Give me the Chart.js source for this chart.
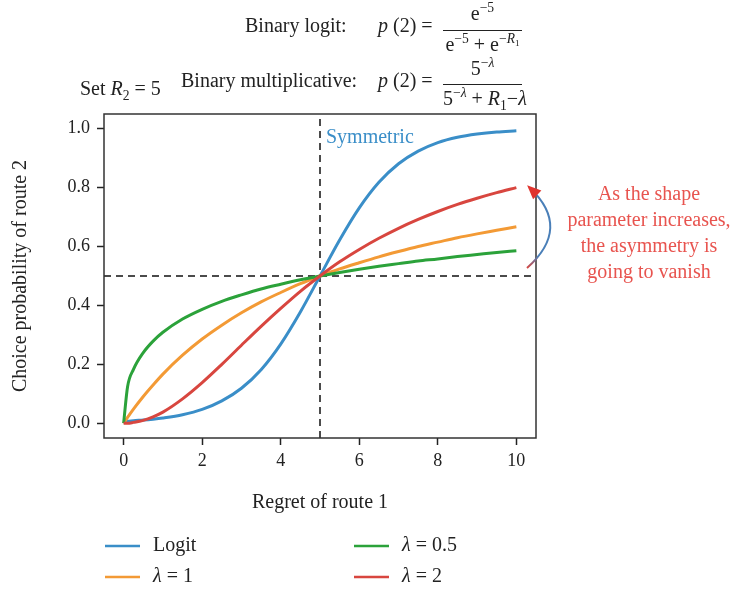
<!DOCTYPE html>
<html>
<head>
<meta charset="utf-8">
<script src="https://cdn.jsdelivr.net/npm/chart.js@4"></script>
<style>
  body { margin: 0; background: #fff; }
  #wrap { position: relative; width: 736px; height: 592px; font-family: "Liberation Serif", serif; color: #222; }
  #chart { position: absolute; left: 0; top: 0; }
  .t { position: absolute; font-size: 20px; line-height: 1; white-space: nowrap; }
  .c { text-align: center; }
  .bar { position: absolute; height: 1.3px; background: #222; }
  sup, sub { font-size: 0.68em; line-height: 0; position: relative; vertical-align: baseline; }
  sup { top: -0.6em; }
  sub { top: 0.35em; }
  #note { position: absolute; left: 560px; top: 180px; width: 178px; text-align: center;
          font-size: 20px; line-height: 26px; color: #e8544f; }
</style>
</head>
<body>
<div id="wrap">
  <canvas id="chart" width="736" height="592"></canvas>

  <!-- equation block -->
  <div class="t" style="left:245px; top:15px">Binary logit:</div>
  <div class="t" style="left:378px; top:15px"><i>p</i>&nbsp;(2) =</div>
  <div class="t c" style="left:443px; top:3px; width:79px">e<sup>−5</sup></div>
  <div class="bar" style="left:443px; top:30px; width:79px"></div>
  <div class="t c" style="left:443px; top:34px; width:79px">e<sup>−5</sup> + e<sup>−<i>R</i><sub>1</sub></sup></div>

  <div class="t" style="left:80px; top:78px">Set <i>R</i><sub>2</sub> = 5</div>
  <div class="t" style="left:181px; top:70px">Binary multiplicative:</div>
  <div class="t" style="left:378px; top:70px"><i>p</i>&nbsp;(2) =</div>
  <div class="t c" style="left:443px; top:58px; width:79px">5<sup>−<i>λ</i></sup></div>
  <div class="bar" style="left:443px; top:84px; width:79px"></div>
  <div class="t c" style="left:443px; top:88px; width:79px">5<sup>−<i>λ</i></sup> + <i>R</i><sub>1</sub>−<i>λ</i></div>

  <div id="note">As the shape<br>parameter increases,<br>the asymmetry is<br>going to vanish</div>
</div>

<script>
// regret of route 1 (x) and choice probability of route 2 for each model
const regret = [0, 0.1, 0.25, 0.5, 0.75, 1, 1.5, 2, 2.5, 3, 3.5, 4, 4.5, 5,
                5.5, 6, 6.5, 7, 7.5, 8, 8.5, 9, 9.5, 10];
const logitProb = [0.007, 0.007, 0.009, 0.011, 0.014, 0.018, 0.029, 0.047, 0.076, 0.119, 0.182, 0.269, 0.378, 0.5,
                   0.622, 0.731, 0.818, 0.881, 0.924, 0.953, 0.971, 0.982, 0.989, 0.993];
const lambda1Prob = [0, 0.020, 0.048, 0.091, 0.130, 0.167, 0.231, 0.286, 0.333, 0.375, 0.412, 0.444, 0.474, 0.5,
                     0.524, 0.545, 0.565, 0.583, 0.600, 0.615, 0.630, 0.643, 0.655, 0.667];
const lambda05Prob = [0, 0.124, 0.183, 0.240, 0.279, 0.309, 0.354, 0.387, 0.414, 0.436, 0.456, 0.472, 0.487, 0.5,
                      0.512, 0.523, 0.533, 0.542, 0.551, 0.558, 0.566, 0.573, 0.580, 0.586];
const lambda2Prob = [0, 0.000, 0.003, 0.010, 0.022, 0.038, 0.083, 0.138, 0.200, 0.265, 0.329, 0.390, 0.448, 0.5,
                     0.548, 0.590, 0.628, 0.662, 0.692, 0.719, 0.743, 0.764, 0.783, 0.800];

const seriesLabels = ["Logit", "λ = 1", "λ = 0.5", "λ = 2"];
const seriesColors = ["#3a8ec8", "#f39a35", "#2ba23a", "#d8463f"];
const xTickValues = [0, 2, 4, 6, 8, 10];
const yTickValues = [0, 0.2, 0.4, 0.6, 0.8, 1.0];
const refRegret = 5;
const refProb = 0.5;

const FONT = "'Liberation Serif', serif";
const toPoints = ys => regret.map((x, i) => ({ x: x, y: ys[i] }));

const curves = [logitProb, lambda1Prob, lambda05Prob, lambda2Prob].map((ys, i) => ({
  label: seriesLabels[i],
  data: toPoints(ys),
  borderColor: seriesColors[i],
  borderWidth: 3,
  pointRadius: 0,
  showLine: true,
  cubicInterpolationMode: "monotone",
  order: 3 - i
}));

const dashed = {
  borderColor: "#111",
  borderWidth: 1.5,
  borderDash: [7, 5],
  pointRadius: 0,
  showLine: true,
  order: 10
};

// box around the plot, legend, label and curved arrow
const extras = {
  id: "extras",
  afterDraw(chart) {
    const { ctx, chartArea: a, scales } = chart;
    ctx.save();
    ctx.strokeStyle = "#333";
    ctx.lineWidth = 1.5;
    ctx.strokeRect(a.left, a.top, a.right - a.left, a.bottom - a.top);

    ctx.font = "20px " + FONT;
    ctx.fillStyle = seriesColors[0];
    ctx.textBaseline = "middle";
    ctx.fillText("Symmetric", scales.x.getPixelForValue(refRegret) + 6, 138);

    // legend, two columns
    const colX = [105, 354], rowY = [546, 577];
    seriesLabels.forEach((lab, i) => {
      const x = colX[Math.floor(i / 2)], y = rowY[i % 2];
      ctx.strokeStyle = seriesColors[i];
      ctx.lineWidth = 2.5;
      ctx.beginPath();
      ctx.moveTo(x, y);
      ctx.lineTo(x + 35, y);
      ctx.stroke();
      ctx.fillStyle = "#222";
      let tx = x + 48;
      if (lab.startsWith("λ")) {
        ctx.font = "italic 20px " + FONT;
        ctx.fillText("λ", tx, y);
        tx += ctx.measureText("λ").width;
        ctx.font = "20px " + FONT;
        ctx.fillText(lab.slice(1), tx, y);
      } else {
        ctx.font = "20px " + FONT;
        ctx.fillText(lab, tx, y);
      }
    });

    // curved arrow from lambda 0.5 end up to lambda 2 end
    const x0 = a.right - 9, y0 = 268, cx = a.right + 36, cy = 228, x1 = a.right - 6, y1 = 188;
    const grad = ctx.createLinearGradient(0, y0, 0, y1);
    grad.addColorStop(0, "#d8463f");
    grad.addColorStop(0.15, "#4a7fb8");
    grad.addColorStop(1, "#4a7fb8");
    ctx.strokeStyle = grad;
    ctx.lineWidth = 2;
    ctx.beginPath();
    ctx.moveTo(x0, y0);
    ctx.quadraticCurveTo(cx, cy, x1, y1);
    ctx.stroke();
    let dx = x1 - cx, dy = y1 - cy;
    const len = Math.hypot(dx, dy);
    dx /= len; dy /= len;
    const tipX = x1 + dx * 4, tipY = y1 + dy * 4;
    const bx = tipX - dx * 14, by = tipY - dy * 14;
    ctx.fillStyle = "#e0352f";
    ctx.beginPath();
    ctx.moveTo(tipX, tipY);
    ctx.lineTo(bx - dy * 6, by + dx * 6);
    ctx.lineTo(bx + dy * 6, by - dx * 6);
    ctx.closePath();
    ctx.fill();
    ctx.restore();
  }
};

new Chart(document.getElementById("chart"), {
  type: "scatter",
  data: {
    datasets: [
      ...curves,
      Object.assign({ data: [{ x: refRegret, y: -0.05 }, { x: refRegret, y: 1.05 }] }, dashed),
      Object.assign({ data: [{ x: -0.5, y: refProb }, { x: 10.5, y: refProb }] }, dashed)
    ]
  },
  options: {
    responsive: false,
    animation: false,
    layout: { padding: { left: 0, top: 114, right: 200, bottom: 74 } },
    plugins: { legend: { display: false }, tooltip: { enabled: false } },
    scales: {
      x: {
        type: "linear",
        min: -0.5,
        max: 10.5,
        afterBuildTicks: axis => { axis.ticks = xTickValues.map(v => ({ value: v })); },
        afterFit: axis => { axis.height = 80; },
        grid: { drawOnChartArea: false, tickLength: 7, tickColor: "#222", tickWidth: 1.5 },
        border: { display: false },
        ticks: { color: "#222", font: { family: FONT, size: 18 }, padding: 5, maxRotation: 0 },
        title: { display: true, text: "Regret of route 1", color: "#222", font: { family: FONT, size: 20 }, padding: { top: 0, bottom: 3 } }
      },
      y: {
        min: -0.05,
        max: 1.05,
        afterBuildTicks: axis => { axis.ticks = yTickValues.map(v => ({ value: v })); },
        afterFit: axis => { axis.width = 104; },
        grid: { drawOnChartArea: false, tickLength: 7, tickColor: "#222", tickWidth: 1.5 },
        border: { display: false },
        ticks: { color: "#222", font: { family: FONT, size: 18 }, padding: 7, callback: v => v.toFixed(1) },
        title: { display: true, text: "Choice probability of route 2", color: "#222", font: { family: FONT, size: 20 }, padding: { top: 9, bottom: 0 } }
      }
    }
  },
  plugins: [extras]
});
</script>
</body>
</html>
